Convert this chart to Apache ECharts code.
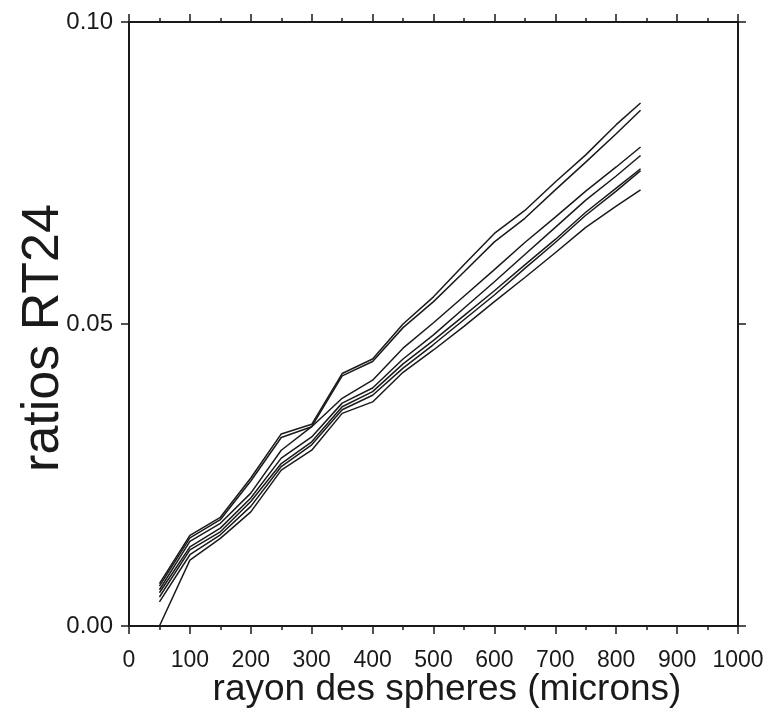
<!DOCTYPE html>
<html>
<head>
<meta charset="utf-8">
<script src="https://cdn.jsdelivr.net/npm/echarts@6/dist/echarts.min.js"></script>
<style>html,body{margin:0;padding:0;background:#fff}#c{width:769px;height:712px}</style>
</head>
<body>
<div id="c"></div>
<script>
var radii = [50, 100, 150, 200, 250, 300, 350, 400, 450, 500, 550, 600, 650, 700, 750, 800, 840];
var ratiosA  = [0.0070, 0.0150, 0.0180, 0.0245, 0.0318, 0.0334, 0.0418, 0.0442, 0.0500, 0.0545, 0.0598, 0.0650, 0.0688, 0.0735, 0.0780, 0.0830, 0.0866];
var ratiosB  = [0.0066, 0.0146, 0.0176, 0.0240, 0.0312, 0.0330, 0.0414, 0.0438, 0.0494, 0.0537, 0.0586, 0.0636, 0.0675, 0.0722, 0.0768, 0.0815, 0.0854];
var ratiosC  = [0.0060, 0.0140, 0.0170, 0.0220, 0.0291, 0.0330, 0.0377, 0.0407, 0.0460, 0.0502, 0.0546, 0.0590, 0.0635, 0.0677, 0.0720, 0.0760, 0.0793];
var ratiosD  = [0.0055, 0.0131, 0.0162, 0.0212, 0.0278, 0.0313, 0.0369, 0.0394, 0.0442, 0.0482, 0.0526, 0.0570, 0.0615, 0.0660, 0.0705, 0.0745, 0.0779];
var ratiosE1 = [0.0048, 0.0126, 0.0156, 0.0206, 0.0269, 0.0305, 0.0363, 0.0388, 0.0434, 0.0473, 0.0514, 0.0555, 0.0598, 0.0640, 0.0685, 0.0725, 0.0757];
var ratiosE2 = [0.0040, 0.0118, 0.0151, 0.0198, 0.0264, 0.0300, 0.0358, 0.0382, 0.0427, 0.0466, 0.0507, 0.0548, 0.0592, 0.0635, 0.0680, 0.0720, 0.0754];
var ratiosG  = [0.0000, 0.0109, 0.0145, 0.0189, 0.0258, 0.0291, 0.0352, 0.0371, 0.0420, 0.0457, 0.0496, 0.0537, 0.0577, 0.0618, 0.0660, 0.0695, 0.0722];
var allSeries = [ratiosA, ratiosB, ratiosC, ratiosD, ratiosE1, ratiosE2, ratiosG];
var xTitle = 'rayon des spheres (microns)';
var yTitle = 'ratios RT24';

var FONT = '"Liberation Sans", Arial, Helvetica, sans-serif';
var INK = '#1a1a1a';
var grid = {left: 129, right: 31, top: 22, bottom: 86};

function pairs(ys){ return radii.map(function(r,i){ return [r, ys[i]]; }); }

var axisLineStyle = {show: true, onZero: false, lineStyle: {color: INK, width: 2}};
var majorTick = {show: true, inside: false, length: 8, lineStyle: {color: INK, width: 1.5}};
var minorTick = {show: true, splitNumber: 2, length: 4, lineStyle: {color: INK, width: 1.5}};
var option = {
  animation: false,
  backgroundColor: '#ffffff',
  grid: grid,
  xAxis: [
    {
      type: 'value', position: 'bottom', min: 0, max: 1000, interval: 100,
      axisLine: axisLineStyle, axisTick: majorTick, minorTick: minorTick,
      axisLabel: {color: INK, fontSize: 23, fontFamily: FONT, margin: 23,
        formatter: function(v){ return String(v); }},
      splitLine: {show: false}
    },
    {
      type: 'value', position: 'top', min: 0, max: 1000, interval: 100,
      axisLine: axisLineStyle, axisTick: majorTick, minorTick: minorTick,
      axisLabel: {show: false},
      splitLine: {show: false}
    }
  ],
  yAxis: [
    {
      type: 'value', position: 'left', min: 0, max: 0.10, interval: 0.05,
      axisLine: axisLineStyle, axisTick: majorTick,
      axisLabel: {color: INK, fontSize: 24, fontFamily: FONT, margin: 16,
        formatter: function(v){ return v.toFixed(2); }},
      splitLine: {show: false}
    },
    {
      type: 'value', position: 'right', min: 0, max: 0.10, interval: 0.05,
      axisLine: axisLineStyle, axisTick: majorTick,
      axisLabel: {show: false},
      splitLine: {show: false}
    }
  ],
  series: allSeries.map(function(ys){
    return {
      type: 'line', xAxisIndex: 0, yAxisIndex: 0,
      data: pairs(ys), showSymbol: false, symbol: 'none', smooth: false,
      lineStyle: {color: INK, width: 1.5}, silent: true
    };
  }),
  graphic: [
    {type: 'text', x: 447, y: 690, style: {text: xTitle, fill: INK, font: '37px ' + FONT, textAlign: 'center', textVerticalAlign: 'middle'}},
    {type: 'text', x: 44, y: 338, rotation: Math.PI / 2, style: {text: yTitle, fill: INK, font: '52px ' + FONT, textAlign: 'center', textVerticalAlign: 'middle'}}
  ]
};
var chart = echarts.init(document.getElementById('c'), null, {renderer: 'canvas'});
chart.setOption(option);
</script>
</body>
</html>
